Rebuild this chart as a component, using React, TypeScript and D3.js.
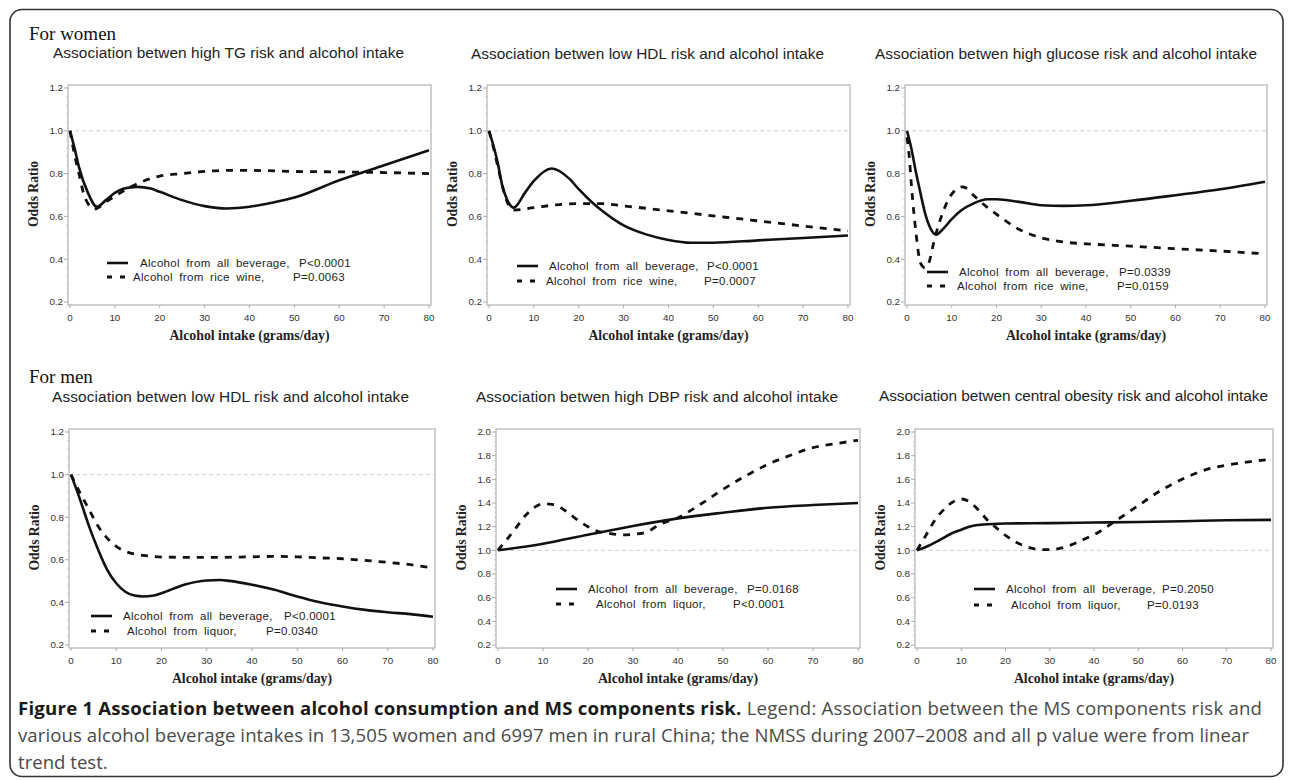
// 0- import Lib
import React from 'react';
import * as d3 from 'd3';

// 1- data: [grams/day, odds ratio]
const xTicks = [0, 10, 20, 30, 40, 50, 60, 70, 80];
const yTicksLow = [0.2, 0.4, 0.6, 0.8, 1.0, 1.2];
const yTicksHigh = [0.2, 0.4, 0.6, 0.8, 1.0, 1.2, 1.4, 1.6, 1.8, 2.0];

// women - high TG
const tgAll = [[0, 1.0], [1, 0.92], [2, 0.83], [4, 0.71], [6, 0.645], [8, 0.676], [10, 0.71], [12, 0.73], [15, 0.738], [18, 0.73], [20, 0.715], [25, 0.676], [30, 0.648], [35, 0.637], [40, 0.645], [45, 0.664], [50, 0.688], [60, 0.769], [70, 0.839], [80, 0.909]];
const tgRice = [[0, 1.0], [1, 0.89], [2, 0.8], [3, 0.71], [4, 0.66], [5.5, 0.635], [8, 0.668], [12, 0.72], [15, 0.753], [20, 0.788], [25, 0.8], [30, 0.81], [35, 0.815], [40, 0.815], [50, 0.81], [60, 0.808], [70, 0.805], [80, 0.8]];

// women - low HDL
const hdlWAll = [[0, 1.0], [1, 0.93], [2, 0.845], [3, 0.74], [4, 0.68], [5.5, 0.641], [8, 0.71], [10, 0.766], [14, 0.824], [18, 0.774], [20, 0.727], [23, 0.665], [25, 0.63], [30, 0.558], [35, 0.516], [40, 0.49], [45, 0.477], [50, 0.477], [60, 0.488], [70, 0.499], [80, 0.511]];
const hdlWRice = [[0, 1.0], [1, 0.92], [2, 0.83], [3, 0.74], [4, 0.67], [5.5, 0.63], [10, 0.641], [15, 0.654], [20, 0.66], [25, 0.66], [30, 0.649], [35, 0.638], [40, 0.626], [45, 0.615], [50, 0.602], [55, 0.591], [60, 0.579], [70, 0.555], [80, 0.532]];

// women - high glucose
const gluAll = [[0, 1.0], [1, 0.915], [2, 0.806], [3, 0.71], [4, 0.618], [5, 0.555], [6.5, 0.515], [8, 0.54], [10, 0.587], [12, 0.626], [15, 0.662], [18, 0.68], [20, 0.68], [25, 0.668], [30, 0.652], [35, 0.649], [40, 0.652], [50, 0.673], [60, 0.699], [70, 0.727], [80, 0.762]];
const gluRice = [[0, 0.97], [0.5, 0.88], [1, 0.743], [2, 0.524], [3, 0.383], [4, 0.36], [5, 0.39], [6, 0.48], [8, 0.618], [10, 0.704], [12.5, 0.738], [15, 0.696], [18, 0.641], [20, 0.61], [25, 0.54], [30, 0.5], [35, 0.48], [40, 0.472], [50, 0.461], [60, 0.449], [70, 0.438], [80, 0.425]];

// men - low HDL
const hdlMAll = [[0, 1.0], [2, 0.883], [4, 0.757], [6, 0.647], [8, 0.553], [10, 0.49], [12, 0.45], [14, 0.432], [16, 0.428], [18, 0.431], [20, 0.443], [25, 0.483], [30, 0.503], [33, 0.505], [35, 0.501], [40, 0.483], [45, 0.459], [50, 0.428], [55, 0.401], [60, 0.381], [65, 0.365], [70, 0.354], [75, 0.345], [80, 0.333]];
const hdlMLiquor = [[0, 1.0], [2, 0.914], [4, 0.836], [6, 0.757], [8, 0.702], [10, 0.663], [12, 0.64], [14, 0.627], [16, 0.621], [18, 0.616], [20, 0.613], [30, 0.611], [40, 0.614], [45, 0.616], [50, 0.614], [55, 0.609], [60, 0.605], [65, 0.597], [70, 0.588], [75, 0.577], [80, 0.561]];

// men - high DBP
const dbpAll = [[0, 1.0], [10, 1.056], [20, 1.132], [30, 1.206], [40, 1.27], [50, 1.318], [60, 1.36], [70, 1.383], [80, 1.4]];
const dbpLiquor = [[0, 1.0], [2, 1.093], [4, 1.19], [6, 1.29], [8, 1.36], [10, 1.394], [12, 1.389], [14, 1.36], [16, 1.304], [18, 1.248], [20, 1.2], [22, 1.163], [25, 1.141], [28, 1.13], [30, 1.135], [33, 1.155], [36, 1.22], [40, 1.276], [45, 1.389], [50, 1.515], [55, 1.628], [60, 1.727], [65, 1.803], [70, 1.868], [75, 1.901], [80, 1.93]];

// men - central obesity
const obeAll = [[0, 1.0], [2, 1.028], [5, 1.084], [8, 1.146], [10, 1.174], [12, 1.202], [15, 1.218], [18, 1.224], [20, 1.227], [30, 1.23], [40, 1.235], [50, 1.24], [60, 1.246], [70, 1.254], [80, 1.257]];
const obeLiquor = [[0, 1.0], [2, 1.126], [4, 1.252], [6, 1.342], [8, 1.406], [10, 1.434], [12, 1.406], [14, 1.336], [16, 1.252], [18, 1.188], [20, 1.126], [22, 1.076], [25, 1.028], [28, 1.006], [30, 1.006], [32, 1.014], [35, 1.048], [38, 1.098], [40, 1.132], [45, 1.252], [50, 1.378], [55, 1.504], [60, 1.602], [65, 1.678], [70, 1.72], [75, 1.748], [80, 1.77]];

const titles = [
  'Association betwen high TG risk and alcohol intake',
  'Association betwen low HDL risk and alcohol intake',
  'Association betwen high glucose risk and alcohol intake',
  'Association betwen low HDL risk and alcohol intake',
  'Association betwen high DBP risk and alcohol intake',
  'Association betwen central obesity risk and alcohol intake',
];
const legendAll = ['P<0.0001', 'P<0.0001', 'P=0.0339', 'P<0.0001', 'P=0.0168', 'P=0.2050'];
const legendOther = ['P=0.0063', 'P=0.0007', 'P=0.0159', 'P=0.0340', 'P<0.0001', 'P=0.0193'];
const otherNames = ['Alcohol from rice wine,', 'Alcohol from rice wine,', 'Alcohol from rice wine,', 'Alcohol from liquor,', 'Alcohol from liquor,', 'Alcohol from liquor,'];

// 2- layout of each panel (frame + title + legend offsets)
const panels = [
  { fx: 68, fy: 85, fw: 363, fh: 220, tx: 53, ty: 58, tw: 351, all: tgAll, other: tgRice, yTicks: yTicksLow, lg: { s: 39, t1: 72, t2: 65, p1: 231, p2: 225, y1: 178, y2: 192 } },
  { fx: 487, fy: 85, fw: 363, fh: 220, tx: 471, ty: 59, tw: 353, all: hdlWAll, other: hdlWRice, yTicks: yTicksLow, lg: { s: 30, t1: 62, t2: 59, p1: 220, p2: 217, y1: 181, y2: 196 } },
  { fx: 905, fy: 85, fw: 362, fh: 220, tx: 875, ty: 59, tw: 382, all: gluAll, other: gluRice, yTicks: yTicksLow, lg: { s: 22, t1: 54, t2: 52, p1: 214, p2: 212, y1: 187, y2: 201 } },
  { fx: 69, fy: 429, fw: 366, fh: 219, tx: 52, ty: 402, tw: 357, all: hdlMAll, other: hdlMLiquor, yTicks: yTicksLow, lg: { s: 22, t1: 54, t2: 58, p1: 215, p2: 197, y1: 187, y2: 202 } },
  { fx: 496, fy: 429, fw: 364, fh: 219, tx: 476, ty: 402, tw: 362, all: dbpAll, other: dbpLiquor, yTicks: yTicksHigh, lg: { s: 60, t1: 92, t2: 100, p1: 251, p2: 237, y1: 160, y2: 175 } },
  { fx: 915, fy: 429, fw: 358, fh: 219, tx: 879, ty: 401, tw: 389, all: obeAll, other: obeLiquor, yTicks: yTicksHigh, lg: { s: 59, t1: 91, t2: 96, p1: 247, p2: 232, y1: 160, y2: 176 } },
];

const sans = '"Liberation Sans", Arial, sans-serif';
const serif = '"Liberation Serif", "Times New Roman", serif';
const capFont = '"Open Sans", "Noto Sans", sans-serif';

function Panel({ p, i }) {
  const yMax = p.yTicks[p.yTicks.length - 1];
  const x = d3.scaleLinear().domain([0, 80]).range([p.fx + 2, p.fx + p.fw - 2]);
  const y = d3.scaleLinear().domain([0.2, yMax]).range([p.fy + p.fh - 3, p.fy + 3]);
  const line = d3
    .line()
    .x((d) => x(d[0]))
    .y((d) => y(d[1]))
    .curve(d3.curveMonotoneX);

  // minor ticks on the y axis (4 between majors)
  const minor = [];
  for (let k = 0; k < p.yTicks.length - 1; k++) {
    for (let m = 1; m < 5; m++) minor.push(p.yTicks[k] + (m * 0.2) / 5);
  }

  const lg = p.lg;
  const lx = p.fx;
  const ly = p.fy;
  const legText = { fontFamily: sans, fontSize: 11.5, fill: '#222', letterSpacing: 0.3, wordSpacing: 3 };

  return (
    <g>
      <text x={p.tx} y={p.ty} fontFamily={sans} fontSize={15.4} fill="#222" textLength={p.tw} lengthAdjust="spacing">
        {titles[i]}
      </text>

      {/* frame */}
      <rect x={p.fx} y={p.fy} width={p.fw} height={p.fh} fill="#fff" stroke="#b8b8b8" strokeWidth={1.3} />
      <line x1={p.fx} x2={p.fx + p.fw} y1={y(1)} y2={y(1)} stroke="#c8c8c8" strokeWidth={0.9} strokeDasharray="4,3" />

      {/* y axis */}
      {minor.map((v, k) => (
        <line key={'m' + k} x1={p.fx - 2} x2={p.fx} y1={y(v)} y2={y(v)} stroke="#c4c4c4" strokeWidth={0.8} />
      ))}
      {p.yTicks.map((v) => (
        <g key={'y' + v}>
          <line x1={p.fx - 4} x2={p.fx} y1={y(v)} y2={y(v)} stroke="#aaa" strokeWidth={1} />
          <text x={p.fx - 5} y={y(v) + 3.4} textAnchor="end" fontFamily={sans} fontSize={9.8} fill="#333">
            {v.toFixed(1)}
          </text>
        </g>
      ))}
      <text
        transform={`translate(${p.fx - 30},${p.fy + p.fh / 2 - 1}) rotate(-90)`}
        textAnchor="middle"
        fontFamily={serif}
        fontWeight="bold"
        fontSize={13.6}
        fill="#222"
      >
        Odds Ratio
      </text>

      {/* x axis */}
      {xTicks.map((v) => (
        <g key={'x' + v}>
          <line x1={x(v)} x2={x(v)} y1={p.fy + p.fh} y2={p.fy + p.fh + 3} stroke="#aaa" strokeWidth={1} />
          <text x={x(v)} y={p.fy + p.fh + 15.5} textAnchor="middle" fontFamily={sans} fontSize={9.8} fill="#333">
            {v}
          </text>
        </g>
      ))}
      <text x={p.fx + p.fw / 2} y={p.fy + p.fh + 35} textAnchor="middle" fontFamily={serif} fontWeight="bold" fontSize={13.8} fill="#222">
        Alcohol intake (grams/day)
      </text>

      {/* curves */}
      <path d={line(p.other)} fill="none" stroke="#111" strokeWidth={2.8} strokeDasharray="7,7" />
      <path d={line(p.all)} fill="none" stroke="#111" strokeWidth={2.6} />

      {/* legend */}
      <line x1={lx + lg.s} x2={lx + lg.s + 21} y1={ly + lg.y1} y2={ly + lg.y1} stroke="#111" strokeWidth={2.6} />
      <line x1={lx + lg.s} x2={lx + lg.s + 21} y1={ly + lg.y2} y2={ly + lg.y2} stroke="#111" strokeWidth={2.8} strokeDasharray="5,8" />
      <text x={lx + lg.t1} y={ly + lg.y1 + 4} style={legText}>
        Alcohol from all beverage,
      </text>
      <text x={lx + lg.p1} y={ly + lg.y1 + 4} style={legText}>
        {legendAll[i]}
      </text>
      <text x={lx + lg.t2} y={ly + lg.y2 + 4} style={legText}>
        {otherNames[i]}
      </text>
      <text x={lx + lg.p2} y={ly + lg.y2 + 4} style={legText}>
        {legendOther[i]}
      </text>
    </g>
  );
}

export default function App() {
  return (
    <div style={{ position: 'absolute', left: 0, top: 0 }}>
      <svg width={1290} height={780} style={{ display: 'block', background: '#fff' }}>
        <rect x={10} y={9.5} width={1273} height={767} rx={12} fill="none" stroke="#333" strokeWidth={1.6} />

        <text x={29} y={40} fontFamily={serif} fontSize={19} fill="#111">For women</text>
        <text x={29} y={383} fontFamily={serif} fontSize={19} fill="#111">For men</text>

        {panels.map((p, i) => (
          <Panel key={i} p={p} i={i} />
        ))}

        {/* caption */}
        <text x={18} y={715} fontFamily={capFont} fontSize={18.6} fill="#4a4a4a" textLength={1244} lengthAdjust="spacing">
          <tspan fontWeight="bold" fill="#1a1a1a">Figure 1 Association between alcohol consumption and MS components risk.</tspan>
          <tspan> Legend: Association between the MS components risk and</tspan>
        </text>
        <text x={18} y={742} fontFamily={capFont} fontSize={18.6} fill="#4a4a4a" textLength={1231} lengthAdjust="spacing">
          various alcohol beverage intakes in 13,505 women and 6997 men in rural China; the NMSS during 2007–2008 and all p value were from linear
        </text>
        <text x={18} y={769} fontFamily={capFont} fontSize={18.6} fill="#4a4a4a">
          trend test.
        </text>
      </svg>
    </div>
  );
}
